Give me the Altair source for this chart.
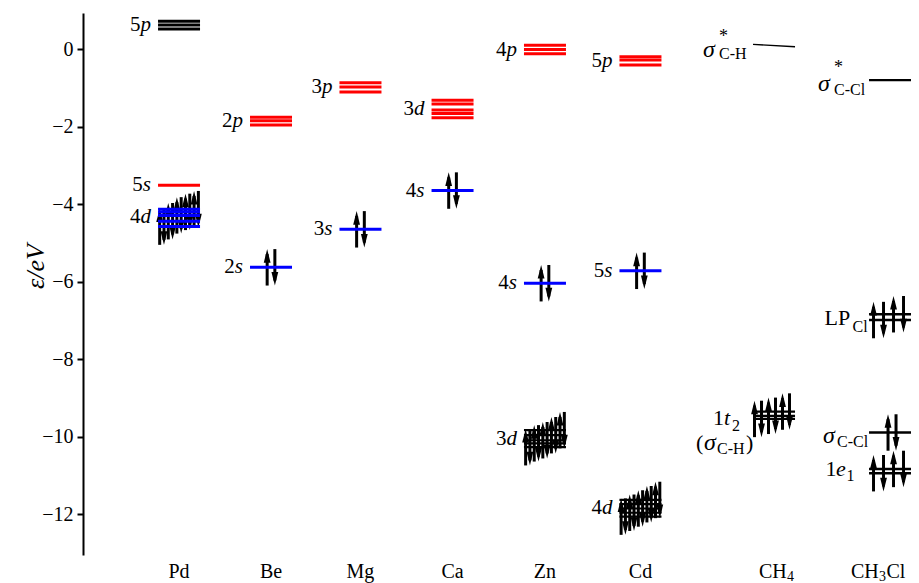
import altair as alt
import pandas as pd

# ---------------- data ----------------
columns = ["Pd", "Be", "Mg", "Ca", "Zn", "Cd", "CH4", "CH3Cl"]
column_pos = [1.067, 2.089, 3.083, 4.106, 5.133, 6.194, 7.678, 8.967]

# orbital groups: column, label, energies (eV), colour, electrons
orbitals = [
    ("Pd", "5p", [0.52, 0.62, 0.72], "black", 0),
    ("Pd", "5s", [-3.51], "red", 0),
    ("Pd", "4d", [-4.58, -4.44, -4.29, -4.20, -4.13], "blue", 10),
    ("Be", "2p", [-1.96, -1.85, -1.76], "red", 0),
    ("Be", "2s", [-5.63], "blue", 2),
    ("Mg", "3p", [-1.11, -0.98, -0.87], "red", 0),
    ("Mg", "3s", [-4.65], "blue", 2),
    ("Ca", "3d", [-1.77, -1.66, -1.57, -1.42, -1.32], "red", 0),
    ("Ca", "4s", [-3.65], "blue", 2),
    ("Zn", "4p", [-0.12, -0.01, 0.095], "red", 0),
    ("Zn", "4s", [-6.04], "blue", 2),
    ("Zn", "3d", [-10.27, -10.17, -10.09, -9.96, -9.83], "black", 10),
    ("Cd", "5p", [-0.41, -0.28, -0.20], "red", 0),
    ("Cd", "5s", [-5.72], "blue", 2),
    ("Cd", "4d", [-12.06, -11.96, -11.85, -11.74, -11.63], "black", 10),
    ("CH4", "1t2", [-9.54, -9.46, -9.35], "black", 6),
    ("CH3Cl", "sCCl*", [-0.80], "black", 0),
    ("CH3Cl", "LP", [-6.99, -6.84], "black", 4),
    ("CH3Cl", "sCCl", [-9.89], "black", 2),
    ("CH3Cl", "1e1", [-10.94, -10.83], "black", 4),
]
# sigma*(C-H) of CH4: slightly tilted level, energy at left / right end
sigma_ch_star = (0.12, 0.06)

y_ticks = [-12, -10, -8, -6, -4, -2, 0]

# ---------------- layout ----------------
W, H = 828, 542
XMIN, XMAX = 0.0, W / 90.0
YMIN, YMAX = -13.05, 0.93
PXX = W / (XMAX - XMIN)
PXY = H / (YMAX - YMIN)


def ux(px):
    return px / PXX


def uy(px):  # pixels downwards -> energy offset
    return -px / PXY


col_of = dict(zip(columns, column_pos))
HALF = ux(21)
FONT = "Liberation Serif"

stroke_w = {("Zn", "3d"): 2.2, ("Cd", "4d"): 2.2, ("CH4", "1t2"): 2.2,
            ("CH3Cl", "sCCl*"): 2.2, ("CH3Cl", "LP"): 2.5,
            ("CH3Cl", "sCCl"): 2.5, ("CH3Cl", "1e1"): 2.5}
arrow_layout = {  # spacing px, centre offset px
    ("Pd", "4d"): (4.3, 0), ("Zn", "3d"): (4.3, 0), ("Cd", "4d"): (4.3, 0),
    ("CH4", "1t2"): (7.0, -2), ("CH3Cl", "LP"): (10.0, -1.5),
    ("CH3Cl", "1e1"): (10.0, -1.5), ("CH3Cl", "sCCl"): (8.0, 2),
}
ARROW_HALF = 0.47
SHORTEN = 5 / PXY

# composite labels: (text, italic, size, dx from level left edge px, dy from level px)
composite = {
    ("CH4", "s*"): [("σ", True, 24, -50, 11.5), ("*", False, 18, -34, -4),
                    ("C-H", False, 16, -34, 13.5)],
    ("CH3Cl", "sCCl*"): [("σ", True, 24, -51, 10.5), ("*", False, 18, -35, -7),
                         ("C-Cl", False, 16, -35, 15)],
    ("CH3Cl", "LP"): [("LP", False, 22, -44.5, 8), ("Cl", False, 16, -16.5, 15)],
    ("CH3Cl", "sCCl"): [("σ", True, 24, -46, 11), ("C-Cl", False, 16, -32, 15)],
    ("CH3Cl", "1e1"): [("1", False, 22, -43.5, 4.5), ("e", True, 22, -33, 4.5),
                       ("1", False, 16, -22.5, 9.5)],
    ("CH4", "1t2"): [("1", False, 22, -40, 10), ("t", True, 22, -29, 10),
                     ("2", False, 16, -21, 15.5), ("(", False, 22, -57, 35),
                     ("σ", True, 24, -49, 35), ("C-H", False, 16, -36, 39),
                     (")", False, 22, -7, 35)],
}
letter_w = {"p": 10.5, "s": 8.2, "d": 10.5}

level_rows, shaft_rows, up_rows, down_rows, text_rows = [], [], [], [], []


def add_text(x, y, text, size, italic, align="left", baseline="alphabetic"):
    text_rows.append(dict(x=x, y=y, text=text, size=size,
                          style="italic" if italic else "normal",
                          align=align, baseline=baseline))


for col, lab, en, colour, ne in orbitals:
    xc = col_of[col]
    key = (col, lab)
    sw = stroke_w.get(key, 3)
    for e in en:
        level_rows.append(dict(x=xc - HALF, x2=xc + HALF, y=e, color=colour, sw=sw))
    if ne:
        sp, off = arrow_layout.get(key, (7.7, 0))
        levs = sorted(en)
        for i in range(ne):
            e = levs[i // 2]
            ax = xc + ux(off + (i - (ne - 1) / 2) * sp)
            if i % 2 == 0:
                shaft_rows.append(dict(x=ax, ylo=e - ARROW_HALF, yhi=e + ARROW_HALF - SHORTEN))
                up_rows.append(dict(x=ax, tip=e + ARROW_HALF))
            else:
                shaft_rows.append(dict(x=ax, ylo=e - ARROW_HALF + SHORTEN, yhi=e + ARROW_HALF))
                down_rows.append(dict(x=ax, tip=e - ARROW_HALF))
    ymean = sum(en) / len(en)
    left = xc - HALF
    if key in composite:
        for t, it, sz, dx, dy in composite[key]:
            add_text(left + ux(dx), ymean + uy(dy), t, sz, it)
    else:
        num, let = lab[:-1], lab[-1]
        xr = left - ux(7 + letter_w[let])
        add_text(xr, ymean, num, 21, False, "right", "middle")
        add_text(xr, ymean, let, 21, True, "left", "middle")

# tilted sigma*(C-H)
xc = col_of["CH4"]
tilt = pd.DataFrame([dict(x=xc - HALF, x2=xc + HALF, y=sigma_ch_star[0], y2=sigma_ch_star[1])])
ym = sum(sigma_ch_star) / 2
for t, it, sz, dx, dy in composite[("CH4", "s*")]:
    add_text(xc - HALF + ux(dx), ym + uy(dy), t, sz, it)

# bottom column labels
ybot = YMIN + uy(23)
for name, xc in zip(columns, column_pos):
    if name == "CH4":
        add_text(xc + ux(-15), ybot, "CH", 20, False)
        add_text(xc + ux(13), ybot + uy(3), "4", 14, False)
    elif name == "CH3Cl":
        add_text(xc + ux(-39), ybot, "CH", 20, False)
        add_text(xc + ux(-11), ybot + uy(3), "3", 14, False)
        add_text(xc + ux(-3.5), ybot, "Cl", 20, False)
    else:
        add_text(xc, ybot, name, 20, False, "center")

levels = pd.DataFrame(level_rows)
shafts = pd.DataFrame(shaft_rows)
ups = pd.DataFrame(up_rows)
downs = pd.DataFrame(down_rows)
texts = pd.DataFrame(text_rows)

xs = alt.Scale(domain=[XMIN, XMAX], nice=False, zero=False)
ys = alt.Scale(domain=[YMIN, YMAX], nice=False, zero=False)

yaxis = alt.Axis(values=y_ticks, title="ε/eV", grid=False,
                 domainColor="black", domainWidth=2, tickColor="black",
                 tickWidth=2, tickSize=6, labelFont=FONT, labelFontSize=20,
                 labelColor="black", labelPadding=4,
                 titleFont=FONT, titleFontSize=26, titleFontStyle="italic",
                 titleFontWeight="normal", titleColor="black",
                 titleAngle=270, titleX=-48, titleY=253,
                 titleAlign="center", titleBaseline="middle")


def X(f="x"):
    return alt.X(f + ":Q", scale=xs, axis=None)


def Y(f):
    return alt.Y(f + ":Q", scale=ys, axis=yaxis)


UP = "M0,0L0.4,1.6L-0.4,1.6Z"
DOWN = "M0,0L0.4,-1.6L-0.4,-1.6Z"
HEAD = 289

layers = [
    alt.Chart(shafts).mark_rule(color="black", strokeWidth=3).encode(
        x=X(), y=Y("ylo"), y2="yhi:Q"),
    alt.Chart(ups).mark_point(shape=UP, size=HEAD, filled=True, color="black",
                              opacity=1, strokeWidth=0).encode(x=X(), y=Y("tip")),
    alt.Chart(downs).mark_point(shape=DOWN, size=HEAD, filled=True, color="black",
                                opacity=1, strokeWidth=0).encode(x=X(), y=Y("tip")),
    alt.Chart(levels).mark_rule(strokeCap="butt").encode(
        x=X(), x2="x2:Q", y=Y("y"),
        color=alt.Color("color:N", scale=None),
        strokeWidth=alt.StrokeWidth("sw:Q", scale=None)),
    alt.Chart(tilt).mark_rule(color="black", strokeWidth=1.3).encode(
        x=X(), x2="x2:Q", y=Y("y"), y2="y2:Q"),
]

for (style, align, base), sub in texts.groupby(["style", "align", "baseline"]):
    layers.append(
        alt.Chart(sub).mark_text(font=FONT, fontStyle=style, align=align,
                                 baseline=base, color="black").encode(
            x=X(), y=Y("y"), text="text:N",
            size=alt.Size("size:Q", scale=None)))

chart = alt.layer(*layers).properties(
    width=W, height=H,
    padding={"left": 75, "top": 5, "right": 0, "bottom": 30},
    autosize=alt.AutoSizeParams(type="none"),
).configure_view(strokeWidth=0)

chart.save("out.html", embed_options={"renderer": "svg", "actions": False})
